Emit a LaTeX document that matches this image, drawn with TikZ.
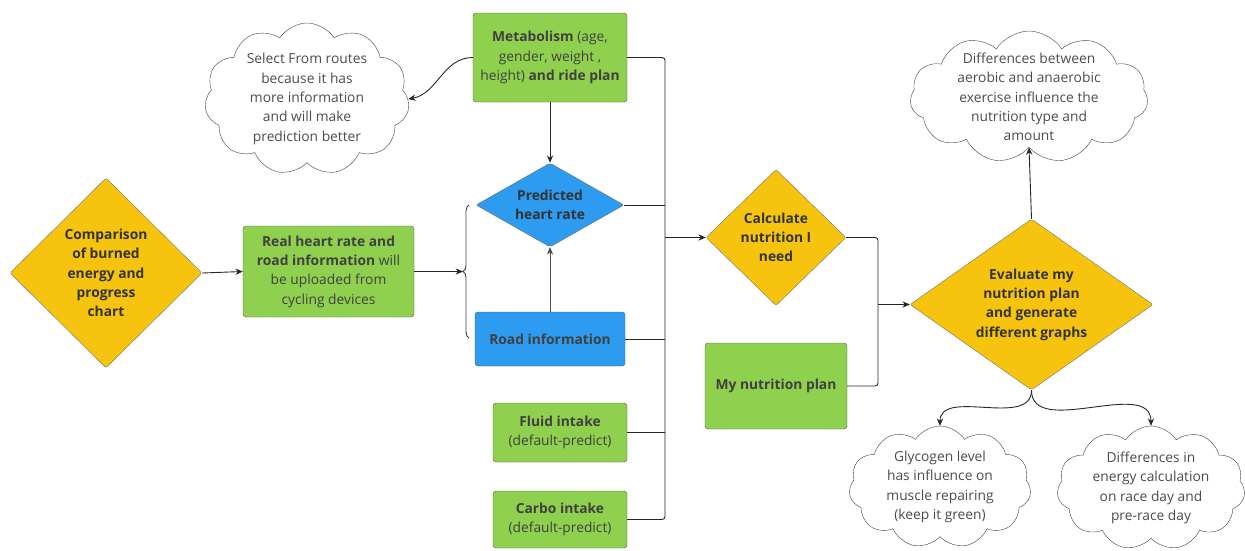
\documentclass[tikz,border=0pt]{standalone}
\usepackage{fontspec}
\setmainfont{Open Sans}
\usetikzlibrary{arrows.meta,positioning,shapes.geometric,shapes.symbols,decorations.pathreplacing}
\definecolor{miroyel}{HTML}{F6C40F}
\definecolor{mirogreen}{HTML}{8FD14F}
\definecolor{miroblue}{HTML}{2D9BF0}

\begin{document}
\begin{tikzpicture}[
  x=1pt, y=-1pt,
  font=\fontsize{13.8}{19.3}\selectfont,
  >={Stealth[length=2.6mm, width=2.2mm]},
  box/.style   ={draw=black!65, rounded corners=3pt, align=center, inner sep=2pt, text=black!75},
  gbox/.style  ={box, fill=mirogreen},
  bbox/.style  ={box, fill=miroblue},
  dec/.style   ={draw=black!55, diamond, rounded corners=2pt, align=center, inner sep=0pt, text=black!80},
  ydec/.style  ={dec, fill=miroyel},
  note/.style  ={cloud, cloud puffs=11, cloud puff arc=115, cloud ignores aspect, draw=black!75, fill=white,
                 align=center, inner xsep=-6pt, inner ysep=-30pt, text=black!70},
  lnk/.style   ={->, line width=0.9pt, black!85},
  bus/.style   ={line width=0.9pt, black!85, rounded corners=3pt},
]
\useasboundingbox (0,0) rectangle (1245,550);

%% ---------------- left part ----------------
\node[ydec, minimum width=192pt, minimum height=190pt] (cmp) at (106,273)
  {\textbf{Comparison}\\\textbf{of burned}\\\textbf{energy and}\\\textbf{progress}\\\textbf{chart}};

\node[gbox, minimum width=171pt, minimum height=91pt] (real) at (328.5,271.5)
  {\textbf{Real heart rate and}\\\textbf{road information} will\\be uploaded from\\cycling devices};

\draw[lnk] (cmp.east) -- (real.west);

\draw[decorate, decoration={brace, amplitude=6pt}, line width=0.9pt, black!75] (469,338) -- (469,205);
\coordinate (brc) at (463,271.5);
\draw[lnk] (real.east) -- (brc);

%% ---------------- inputs ----------------
\node[gbox, minimum width=154pt, minimum height=89pt] (meta) at (550,57.5)
  {\textbf{Metabolism} (age,\\gender, weight ,\\height) \textbf{and ride plan}};

\node[note, minimum width=205pt, minimum height=152pt] (sel) at (307,99)
  {Select From routes\\because it has\\more information\\and will make\\prediction better};

\node[dec, fill=miroblue, minimum width=148pt, minimum height=84pt, aspect=1.76] (pred) at (550,205)
  {\textbf{Predicted}\\\textbf{heart rate}};

\node[bbox, minimum width=150pt, minimum height=54pt] (road) at (550,339)
  {\textbf{Road information}};

\node[gbox, minimum width=134pt, minimum height=59pt] (fluid) at (560,432.5)
  {\textbf{Fluid intake}\\(default-predict)};

\node[gbox, minimum width=134pt, minimum height=57pt] (carbo) at (560,519.5)
  {\textbf{Carbo intake}\\(default-predict)};

\draw[lnk] (meta.west) to[out=180, in=10] (sel.east);
\draw[lnk] (meta.south) -- (pred.north);
\draw[lnk, black!70] (road.north) -- (pred.south);

%% ---------------- collecting line ----------------
\coordinate (bs) at (665,0);
\draw[bus] (meta.east) -| (bs |- carbo.east) -- (carbo.east);
\draw[bus] (pred.east) -- (pred.east -| bs);
\draw[bus] (road.east) -- (road.east -| bs);
\draw[bus] (fluid.east) -- (fluid.east -| bs);

%% ---------------- nutrition ----------------
\node[ydec, minimum width=140pt, minimum height=136pt] (calc) at (776,237.5)
  {\textbf{Calculate}\\\textbf{nutrition I}\\\textbf{need}};
\draw[lnk, line width=1.4pt] (bs |- calc.west) -- (calc.west);

\node[gbox, minimum width=142pt, minimum height=86pt] (plan) at (776,386)
  {\textbf{My nutrition plan}};

\node[ydec, minimum width=243pt, minimum height=171pt, aspect=1.42] (eval) at (1031.5,304.5)
  {\textbf{Evaluate my}\\\textbf{nutrition plan}\\\textbf{and generate}\\\textbf{different graphs}};

\coordinate (jn) at (878,304.5);
\draw[bus] (calc.east) -| (jn) |- (plan.east);
\draw[lnk] (jn) -- (eval.west);

%% ---------------- notes ----------------
\node[note, minimum width=238pt, minimum height=132pt] (aer) at (1029,97)
  {Differences between\\aerobic and anaerobic\\exercise influence the\\nutrition type and\\amount};

\node[note, minimum width=182pt, minimum height=122pt] (gly) at (940,487)
  {Glycogen level\\has influence on\\muscle repairing\\(keep it green)};

\node[note, minimum width=188pt, minimum height=124pt] (race) at (1151,488)
  {Differences in\\energy calculation\\on race day and\\pre-race day};

\draw[lnk] (eval.north) -- (aer.south);
\draw[lnk] (eval.south) to[out=-90, in=90] (gly.north);
\draw[lnk] (eval.south) to[out=-90, in=90] (race.north);

\end{tikzpicture}
\end{document}
